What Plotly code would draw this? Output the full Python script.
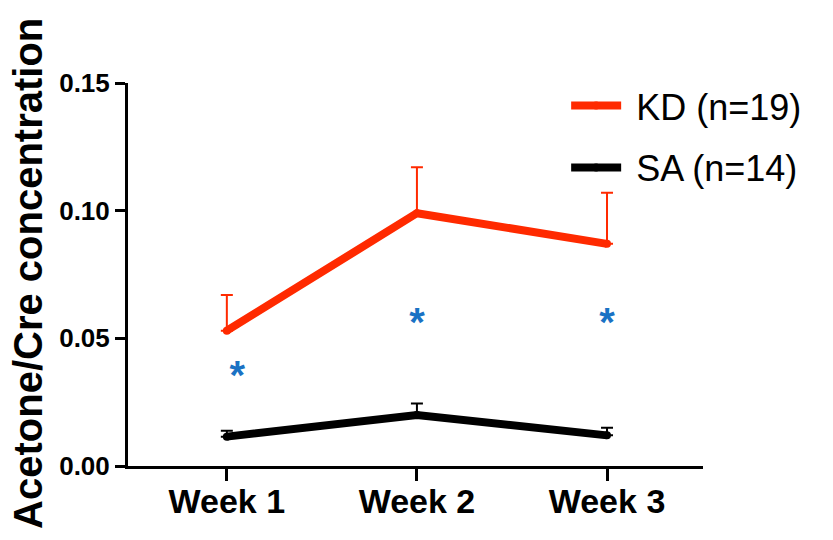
import plotly.graph_objects as go

# Acetone/Cre concentration over three weeks, KD vs SA groups
weeks = ["Week 1", "Week 2", "Week 3"]
week_pos = [0, 1, 2]

kd_mean = [0.053, 0.099, 0.087]
kd_sem = [0.014, 0.018, 0.020]

sa_mean = [0.0115, 0.020, 0.012]
sa_sem = [0.0023, 0.0045, 0.003]

# significance markers (x position, y position)
sig_x = [0.055, 1.0, 2.0]
sig_y = [0.034, 0.055, 0.055]
sig_text = ["*", "*", "*"]

y_ticks = [0.0, 0.05, 0.10, 0.15]
y_ticktext = ["0.00", "0.05", "0.10", "0.15"]

RED = "#ff2a00"
BLACK = "#000000"
BLUE = "#1a72c4"
FONT = "Liberation Sans, Arial, Helvetica, sans-serif"

fig = go.Figure()

fig.add_trace(go.Scatter(
    x=week_pos, y=kd_mean, name="\u00a0KD (n=19)", mode="lines+markers",
    line=dict(color=RED, width=8),
    marker=dict(color=RED, size=8),
    error_y=dict(type="data", array=kd_sem, arrayminus=[0, 0, 0],
                 symmetric=False, color=RED, thickness=2, width=6),
    legendgroup="kd",
))

fig.add_trace(go.Scatter(
    x=week_pos, y=sa_mean, name="\u00a0SA (n=14)", mode="lines+markers",
    line=dict(color=BLACK, width=8),
    marker=dict(color=BLACK, size=8),
    error_y=dict(type="data", array=sa_sem, arrayminus=[0, 0, 0],
                 symmetric=False, color=BLACK, thickness=2, width=6),
    legendgroup="sa",
))

fig.add_trace(go.Scatter(
    x=sig_x, y=sig_y, text=sig_text, mode="text",
    textposition="middle center",
    textfont=dict(family=FONT, size=40, color=BLUE, weight="bold"),
    showlegend=False, hoverinfo="skip",
))

fig.update_layout(
    width=833, height=540,
    margin=dict(l=128, r=130, t=83, b=74),
    paper_bgcolor="white", plot_bgcolor="white",
    font=dict(family=FONT, color="black"),
    showlegend=True,
    legend=dict(
        x=0.762, y=1.019, xanchor="left", yanchor="top",
        font=dict(family=FONT, size=36, color="black"),
        bgcolor="rgba(0,0,0,0)", borderwidth=0,
        itemwidth=50, tracegroupgap=12,
    ),
    xaxis=dict(
        range=[-0.52, 2.505], tickmode="array", tickvals=week_pos, ticktext=weeks,
        showline=True, linecolor="black", linewidth=3,
        ticks="outside", ticklen=12, tickwidth=3, tickcolor="black",
        showgrid=False, zeroline=False, ticklabelstandoff=-9,
        tickfont=dict(family=FONT, size=34, color="black", weight="bold"),
    ),
    yaxis=dict(
        range=[0, 0.15], tickmode="array", tickvals=y_ticks, ticktext=y_ticktext,
        showline=True, linecolor="black", linewidth=3,
        ticks="outside", ticklen=10, tickwidth=3, tickcolor="black",
        showgrid=False, zeroline=False,
        tickfont=dict(family=FONT, size=26, color="black", weight="bold"),
    ),
    annotations=[dict(
        text="Acetone/Cre concentration", textangle=-90,
        xref="paper", yref="paper", x=-0.174, y=0.504,
        xanchor="center", yanchor="middle", showarrow=False,
        font=dict(family=FONT, size=40, color="black", weight="bold"),
    )],
)

fig.write_html("out.html")
